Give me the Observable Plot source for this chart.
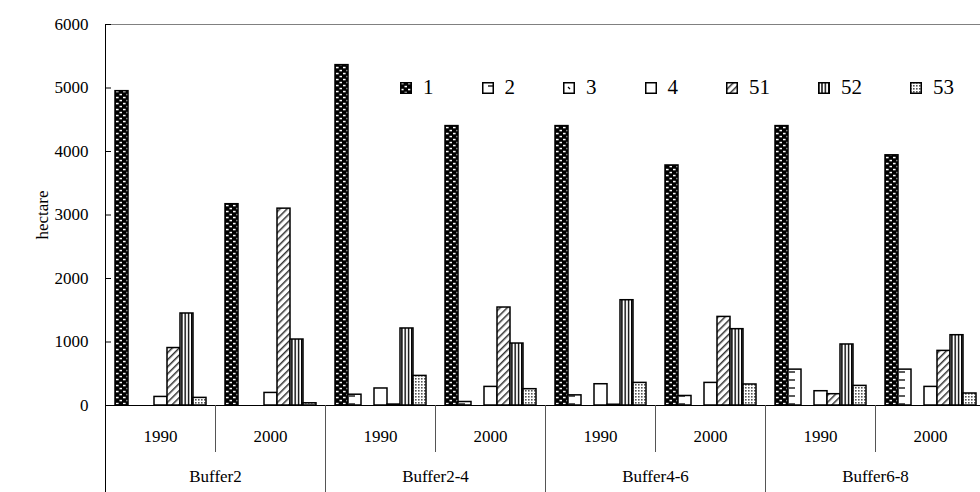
<!DOCTYPE html>
<html><head><meta charset="utf-8">
<script src="https://cdn.jsdelivr.net/npm/d3@7"></script>
<script src="https://cdn.jsdelivr.net/npm/@observablehq/plot@0.6"></script>
<style>
html,body{margin:0;padding:0;background:#fff;overflow:hidden;}
#wrap{position:relative;width:989px;height:492px;font-family:"Liberation Serif","Times New Roman",Times,serif;}
#wrap > svg{display:block;}
#legend{position:absolute;top:77px;left:400px;display:flex;align-items:center;font-size:21px;line-height:1;color:#000;}
.item{display:flex;align-items:center;margin-right:48px;}
.item svg{margin-right:11px;display:block;}
</style></head><body>
<svg width="0" height="0" style="position:absolute;left:0;top:0">
<defs>
 <pattern id="p1" patternUnits="userSpaceOnUse" width="7" height="6">
   <rect width="7" height="6" fill="#000"/>
   <rect x="1" y="0.8" width="2.6" height="1.5" fill="#fff"/>
   <rect x="4.5" y="3.8" width="2.6" height="1.5" fill="#fff"/>
 </pattern>
 <pattern id="p2" patternUnits="userSpaceOnUse" width="12" height="8">
   <rect width="12" height="8" fill="#fff"/>
   <line x1="6" y1="4" x2="12" y2="4" stroke="#000" stroke-width="1.3"/>
 </pattern>
 <pattern id="p3" patternUnits="userSpaceOnUse" width="8" height="8">
   <rect width="8" height="8" fill="#fff"/>
   <line x1="5" y1="5" x2="7" y2="7" stroke="#000" stroke-width="1.2"/>
 </pattern>
 <pattern id="p51" patternUnits="userSpaceOnUse" width="5" height="5" patternTransform="rotate(45)">
   <rect width="5" height="5" fill="#fff"/>
   <rect width="1.5" height="5" fill="#333"/>
 </pattern>
 <pattern id="p52" patternUnits="userSpaceOnUse" width="3.3" height="4">
   <rect width="3.3" height="4" fill="#fff"/>
   <rect width="1.4" height="4" fill="#000"/>
 </pattern>
 <pattern id="p53" patternUnits="userSpaceOnUse" width="3" height="3">
   <rect width="3" height="3" fill="#fff"/>
   <rect width="1.6" height="1.6" fill="#555"/>
 </pattern>
</defs></svg>
<div id="wrap"><div id="legend"></div></div>
<script>
// ---- data ----
const buffers = ["Buffer2", "Buffer2-4", "Buffer4-6", "Buffer6-8"];
const years = ["1990", "2000"];
const classes = ["1", "2", "3", "4", "51", "52", "53"];
// values per group: Buffer2 1990, Buffer2 2000, Buffer2-4 1990, Buffer2-4 2000, Buffer4-6 1990, Buffer4-6 2000, Buffer6-8 1990, Buffer6-8 2000
const class1  = [4950, 3170, 5360, 4400, 4400, 3780, 4400, 3940];
const class2  = [0, 0, 170, 55, 160, 150, 565, 565];
const class3  = [0, 0, 0, 0, 0, 0, 0, 0];
const class4  = [135, 198, 268, 293, 335, 356, 225, 293];
const class51 = [905, 3100, 15, 1543, 12, 1395, 178, 860];
const class52 = [1449, 1039, 1213, 976, 1658, 1202, 961, 1107];
const class53 = [120, 35, 466, 257, 356, 331, 309, 189];
const yTicks = [0, 1000, 2000, 3000, 4000, 5000, 6000];

const seriesValues = [class1, class2, class3, class4, class51, class52, class53];
const fills = {"1": "url(#p1)", "2": "url(#p2)", "3": "url(#p3)", "4": "#ffffff", "51": "url(#p51)", "52": "url(#p52)", "53": "url(#p53)"};

const groups = buffers.flatMap(b => years.map(y => ({key: b + " " + y, buffer: b, year: y})));
const rows = [];
classes.forEach((c, ci) => seriesValues[ci].forEach((v, gi) => rows.push({key: groups[gi].key, cls: c, value: v})));

const W = 989, H = 492;
const plot = Plot.plot({
  width: W, height: H,
  marginLeft: 102, marginRight: 1, marginTop: 24, marginBottom: 87,
  style: {fontFamily: '"Liberation Serif", "Times New Roman", Times, serif', fontSize: "17px", color: "#000", background: "transparent"},
  fx: {domain: groups.map(g => g.key), padding: 0, axis: null},
  x: {domain: classes, paddingInner: 0, paddingOuter: 0.66, axis: null},
  y: {domain: [0, 6000]},
  color: {type: "identity"},
  marks: [
    Plot.ruleY([6000], {stroke: "#808080", strokeWidth: 1}),
    Plot.barY(rows, {filter: d => d.value > 0, fx: "key", x: "cls", y: "value", fill: d => fills[d.cls], stroke: "#000", strokeWidth: 1.5}),
    Plot.ruleY([0], {stroke: "#000", strokeWidth: 1}),
    Plot.axisY({ticks: yTicks, tickSize: -6, tickPadding: 23, tickFormat: d3.format("d"), fontSize: 17,
                label: "hectare", labelAnchor: "center", labelArrow: "none", labelOffset: 70}),
    Plot.text(groups, {fx: "key", text: "year", frameAnchor: "bottom", dy: 36, fontSize: 17}),
    Plot.text(groups.filter(g => g.year === years[0]), {fx: "key", text: "buffer", frameAnchor: "bottom-right", dy: 76, textAnchor: "middle", fontSize: 17})
  ]
});
const wrap = document.getElementById("wrap");
wrap.insertBefore(plot, wrap.firstChild);

// category separators below the axis, placed with the fx / y scales
const svgEl = plot.tagName.toLowerCase() === "svg" ? plot : plot.querySelector("svg");
const fx = plot.scale("fx");
const ys = plot.scale("y");
const bw = fx.bandwidth;
const yTop = ys.apply(6000), y0 = ys.apply(0);
const sep = d3.select(svgEl).append("g").attr("fill", "none");
groups.forEach((g, i) => {
  const x = Math.round(fx.apply(g.key)) + 0.5;
  if (i === 0) {
    sep.append("line").attr("x1", x).attr("x2", x).attr("y1", yTop).attr("y2", H).attr("stroke", "#000");
  } else {
    sep.append("line").attr("x1", x).attr("x2", x).attr("y1", y0).attr("y2", g.year === years[0] ? H : 452).attr("stroke", "#555");
  }
});
const xr = Math.round(fx.apply(groups[groups.length - 1].key) + bw) - 0.5;
sep.append("line").attr("x1", xr).attr("x2", xr).attr("y1", yTop).attr("y2", y0).attr("stroke", "#808080");
sep.append("line").attr("x1", xr).attr("x2", xr).attr("y1", y0).attr("y2", H).attr("stroke", "#555");

// legend
const leg = d3.select("#legend");
classes.forEach(c => {
  const it = leg.append("div").attr("class", "item");
  const s = it.append("svg").attr("width", 12).attr("height", 12);
  s.append("rect").attr("x", 0.75).attr("y", 0.75).attr("width", 10.5).attr("height", 10.5)
    .attr("fill", fills[c]).attr("stroke", "#000").attr("stroke-width", 1.5);
  it.append("span").text(c);
});
</script>
</body></html>
